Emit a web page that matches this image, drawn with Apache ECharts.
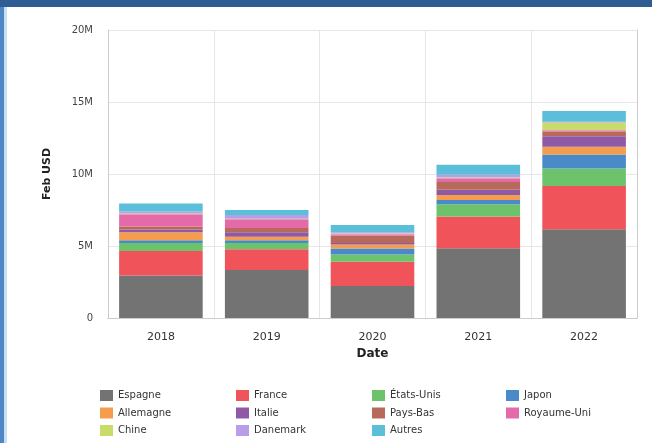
<!DOCTYPE html>
<html><head><meta charset="utf-8">
<script src="https://cdn.jsdelivr.net/npm/echarts@6/dist/echarts.min.js"></script>
<style>html,body{margin:0;padding:0;background:#fff;}#c{width:652px;height:443px;}</style>
</head><body><div id="c"></div>
<script>
const categories = ['2018','2019','2020','2021','2022'];
const seriesNames = ['Espagne','France','États-Unis','Japon','Allemagne','Italie','Pays-Bas','Royaume-Uni','Chine','Danemark','Autres'];
const espagne    = [2.95, 3.33, 2.22, 4.84, 6.16];
const france     = [1.70, 1.45, 1.69, 2.20, 3.00];
const etatsUnis  = [0.55, 0.42, 0.50, 0.86, 1.23];
const japon      = [0.20, 0.20, 0.42, 0.30, 0.97];
const allemagne  = [0.55, 0.25, 0.28, 0.35, 0.53];
const italie     = [0.20, 0.30, 0.10, 0.35, 0.74];
const paysBas    = [0.20, 0.30, 0.50, 0.55, 0.30];
const royaumeUni = [0.85, 0.60, 0.10, 0.25, 0.10];
const chine      = [0.05, 0.05, 0.05, 0.05, 0.55];
const danemark   = [0.15, 0.25, 0.10, 0.20, 0.05];
const autres     = [0.55, 0.35, 0.50, 0.70, 0.75];
const yTicks = [0, 5, 10, 15, 20];

const values = [espagne, france, etatsUnis, japon, allemagne, italie, paysBas, royaumeUni, chine, danemark, autres];
const colors = ['#737373','#f0535a','#6cc36c','#4a8ac8','#f59c4e','#8e5aa8','#b86a5a','#e46aaa','#c9dc6a','#b89ee6','#5bbfda'];
const font = 'DejaVu Sans';

const chart = echarts.init(document.getElementById('c'));
const legendCols = [[0,4,8],[1,5,9],[2,6,10],[3,7]];
const legendLefts = [100, 236, 372, 506];
chart.setOption({
  animation: false,
  backgroundColor: '#fff',
  color: colors,
  textStyle: {fontFamily: font},
  graphic: [
    {type:'rect', shape:{x:0,y:0,width:652,height:7}, style:{fill:'#2f5d93'}, silent:true, z:100},
    {type:'rect', shape:{x:0,y:7,width:4,height:436}, style:{fill:'#4f86c6'}, silent:true, z:100},
    {type:'rect', shape:{x:4,y:7,width:3,height:436}, style:{fill:'#c9def3'}, silent:true, z:100}
  ],
  grid: {left: 108, right: 15, top: 30, bottom: 125},
  legend: legendCols.map((col, i) => ({
    orient: 'vertical', left: legendLefts[i], top: 390, height: 60, padding: 0,
    itemWidth: 13, itemHeight: 11, itemGap: 6.5, icon: 'rect',
    selectedMode: false,
    textStyle: {fontFamily: font, fontSize: 10, color: '#333'},
    data: col.map(k => seriesNames[k])
  })),
  xAxis: [{
    type: 'category', data: categories,
    name: 'Date', nameLocation: 'middle', nameGap: 28,
    nameTextStyle: {fontFamily: font, fontWeight: 'bold', fontSize: 12, color: '#222'},
    axisLine: {show: true, lineStyle: {color: '#ccc'}},
    axisTick: {show: false},
    axisLabel: {fontFamily: font, fontSize: 11, color: '#333', margin: 14},
    splitLine: {show: true, lineStyle: {color: '#e6e6e6'}}
  }, {type:'category', data: categories, position:'top', axisLine:{show:true, lineStyle:{color:'#ccc'}}, axisTick:{show:false}, axisLabel:{show:false}, splitLine:{show:false}}],
  yAxis: [{
    type: 'value', min: 0, max: 20, interval: 5,
    name: 'Feb USD', nameLocation: 'middle', nameGap: 55,
    nameTextStyle: {fontFamily: font, fontWeight: 'bold', fontSize: 11, color: '#222'},
    axisLine: {show: true, lineStyle: {color: '#ccc'}},
    axisTick: {show: false},
    axisLabel: {fontFamily: font, fontSize: 10, color: '#444', margin: 15,
      formatter: v => yTicks.includes(v) ? (v === 0 ? '0' : v + 'M') : ''},
    splitLine: {show: true, lineStyle: {color: '#e6e6e6'}}
  }, {type:'value', min:0, max:20, interval:5, position:'right', axisLine:{show:true, lineStyle:{color:'#ccc'}}, axisTick:{show:false}, axisLabel:{show:false}, splitLine:{show:false}}],
  series: seriesNames.map((n, i) => ({
    name: n, type: 'bar', stack: 'total', barWidth: '79%',
    data: values[i], itemStyle: {color: colors[i]}
  }))
});
</script></body></html>
